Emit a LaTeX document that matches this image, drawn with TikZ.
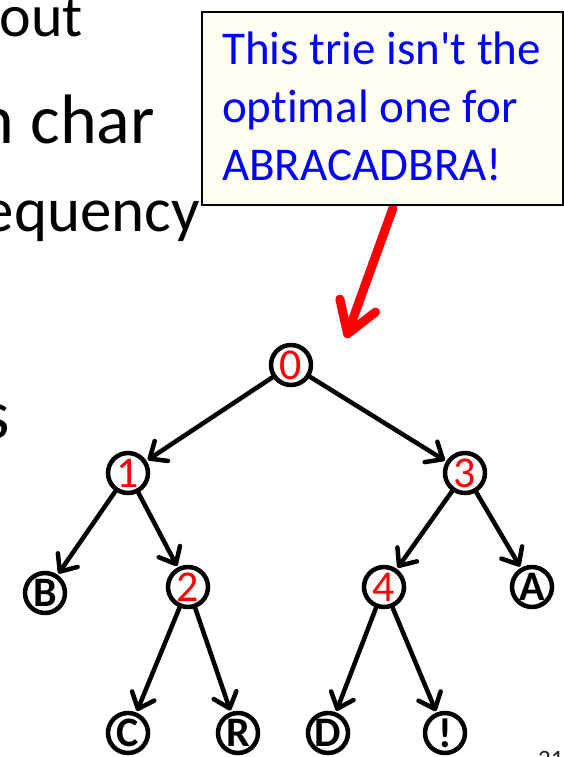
\documentclass[tikz,border=0pt]{standalone}
\usepackage{fontspec}
\setmainfont{Carlito}[Ligatures=NoCommon]
\newfontfamily\calfont{Carlito}[Ligatures={ResetAll,NoCommon}]
\usetikzlibrary{arrows.meta}
\definecolor{calloutfill}{RGB}{255,255,240}
\begin{document}
\begin{tikzpicture}[x=1pt,y=-1pt,
  tnode/.style={circle,draw=black,line width=4.5pt,minimum size=40pt,inner sep=0pt,fill=white},
  num/.style={tnode,text=red,font=\fontsize{44}{44}\selectfont},
  leaf/.style={tnode,font=\fontsize{42}{42}\selectfont\bfseries},
  edge/.style={line width=4.5pt,line cap=round,shorten >=1.5pt,-{Straight Barb[length=14pt,width=24pt,line cap=round,line join=round]}},
  slidetext/.style={anchor=base east,inner sep=0pt},
  ctext/.style={anchor=base west,inner sep=0pt,text=blue,font=\calfont\fontsize{47}{58}\selectfont}]
\useasboundingbox (0,0) rectangle (564,757);
\clip (0,0) rectangle (564,757);
% background slide text (cut off by the picture edge)
\node[slidetext,font=\fontsize{60}{72}\selectfont] (t1) at (83,37) {about};
\node[slidetext,font=\fontsize{70}{84}\selectfont] (t2) at (155,143) {each char};
\node[slidetext,font=\fontsize{63}{76}\selectfont] (t3) at (200,231) {frequency};
\node[slidetext,font=\fontsize{70}{84}\selectfont] (t4) at (10,438) {s};
\node[anchor=base west,inner sep=0pt,text=black!85,font=\fontsize{25}{30}\selectfont] (num) at (538,767) {21};
% red arrow
\coordinate (rs) at (393,208);
\coordinate (re) at (346,338);
\draw[red,line width=9pt,line cap=round,-{Straight Barb[length=30pt,width=38pt,line cap=round,line join=round]}] (rs) -- (re);
% callout
\draw[line width=2pt,fill=calloutfill] (202,12) rectangle (563,205);
\node[ctext] (c1) at (222,65) {This trie isn't the};
\node[ctext] (c2) at (222,123) {optimal one for};
\node[ctext] (c3) at (222,180) {ABRACADBRA!};
% tree
\node[num] (n0) at (291,365) {0};
\node[num] (n1) at (128,473) {1};
\node[num] (n3) at (465,473) {3};
\node[leaf] (nB) at (45,593) {B};
\node[num] (n2) at (188,587) {2};
\node[num] (n4) at (384,587) {4};
\node[leaf] (nA) at (532,587) {A};
\node[leaf] (nC) at (128,733) {C};
\node[leaf] (nR) at (238,733) {R};
\node[leaf] (nD) at (328,733) {D};
\node[leaf] (nX) at (445,733) {!};
\draw[edge] (n0) -- (n1);
\draw[edge] (n0) -- (n3);
\draw[edge] (n1) -- (nB);
\draw[edge] (n1) -- (n2);
\draw[edge] (n3) -- (n4);
\draw[edge] (n3) -- (nA);
\draw[edge] (n2) -- (nC);
\draw[edge] (n2) -- (nR);
\draw[edge] (n4) -- (nD);
\draw[edge] (n4) -- (nX);
\end{tikzpicture}
\end{document}
